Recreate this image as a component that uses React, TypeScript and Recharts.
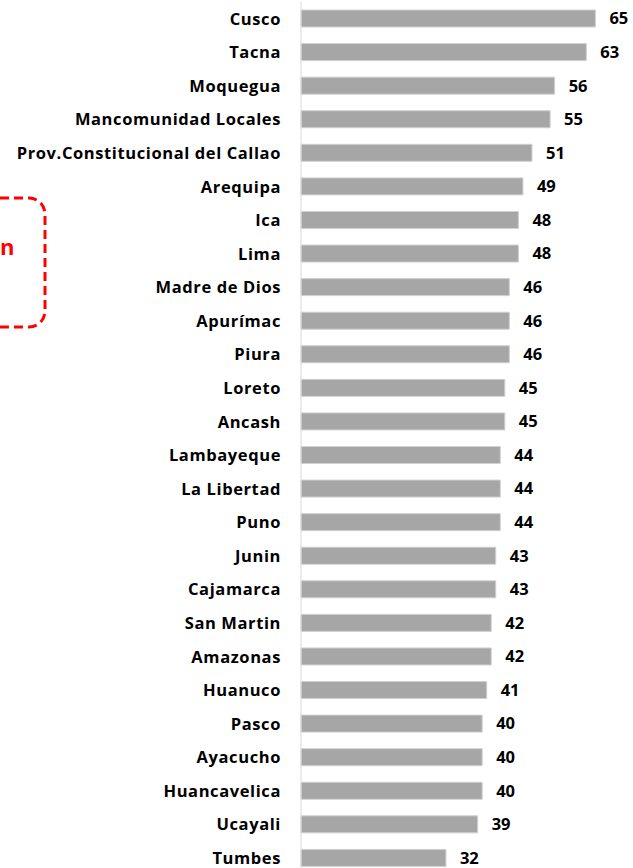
import { BarChart, Bar, XAxis, YAxis, LabelList } from 'recharts';

const regions = [
  'Cusco',
  'Tacna',
  'Moquegua',
  'Mancomunidad Locales ',
  'Prov.Constitucional del Callao',
  'Arequipa',
  'Ica',
  'Lima',
  'Madre de Dios',
  'Apurímac',
  'Piura',
  'Loreto',
  'Ancash',
  'Lambayeque',
  'La Libertad',
  'Puno',
  'Junin',
  'Cajamarca',
  'San Martin',
  'Amazonas',
  'Huanuco',
  'Pasco',
  'Ayacucho',
  'Huancavelica',
  'Ucayali',
  'Tumbes',
];

const scores = [65, 63, 56, 55, 51, 49, 48, 48, 46, 46, 46, 45, 45, 44, 44, 44, 43, 43, 42, 42, 41, 40, 40, 40, 39, 32];

const data = regions.map((name, i) => ({ name, value: scores[i] }));

const FONT = '"Open Sans", Lato, sans-serif';

export default function App() {
  return (
    <div
      style={{
        position: 'fixed',
        left: 0,
        top: 0,
        width: 633,
        height: 868,
        overflow: 'hidden',
        background: '#fff',
        fontFamily: FONT,
      }}
    >
      <BarChart
        layout="vertical"
        width={633}
        height={875}
        data={data}
        margin={{ top: 2, right: 0, left: 0, bottom: 0 }}
      >
        <XAxis type="number" domain={[0, 73.3]} hide />
        <YAxis
          type="category"
          dataKey="name"
          width={301}
          axisLine={{ stroke: '#d9d9d9', strokeWidth: 1 }}
          tickLine={false}
          tickSize={0}
          tickMargin={20}
          interval={0}
          tick={{
            fill: '#000',
            fontSize: 16.5,
            fontWeight: 700,
            fontFamily: FONT,
            letterSpacing: 0.6,
          }}
        />
        <Bar
          dataKey="value"
          fill="#a6a6a6"
          stroke="#d0d0d0"
          strokeWidth={1}
          barSize={17}
          isAnimationActive={false}
        >
          <LabelList
            dataKey="value"
            position="right"
            offset={14}
            fill="#000"
            fontSize={16.5}
            fontWeight={700}
            fontFamily={FONT}
          />
        </Bar>
      </BarChart>
      <svg
        width={80}
        height={140}
        style={{ position: 'absolute', left: 0, top: 190 }}
      >
        <rect
          x={-30}
          y={8}
          width={75}
          height={129}
          rx={16}
          fill="none"
          stroke="#ff0000"
          strokeWidth={3}
          strokeDasharray="9 5"
        />
        <text x={0} y={65} fill="#ff0000" fontSize={22} fontWeight={700} fontFamily={FONT}>
          n
        </text>
      </svg>
    </div>
  );
}
